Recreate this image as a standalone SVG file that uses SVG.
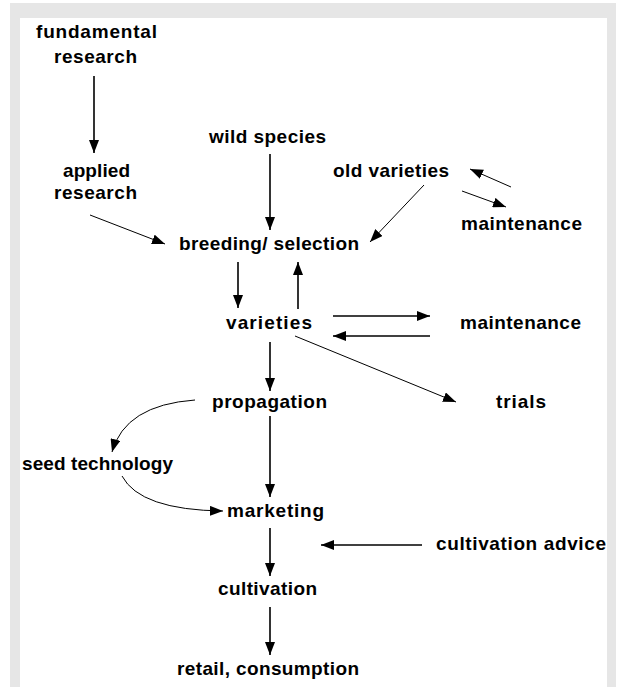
<svg xmlns="http://www.w3.org/2000/svg" width="618" height="687" viewBox="0 0 618 687">
<style>
text{font-family:"Liberation Sans",Arial,sans-serif;font-weight:bold;font-size:19px;fill:#000;text-anchor:middle}
.c line,.c path{stroke:#000;fill:none;marker-end:url(#ah)}
.s{stroke-width:1.6}
.t{stroke-width:1}
</style>
<defs>
<marker id="ah" markerUnits="userSpaceOnUse" markerWidth="14" markerHeight="10" refX="13" refY="5" orient="auto"><path d="M0,0 L13,5 L0,10 z" fill="#000"/></marker>
</defs>
<rect x="10" y="3" width="606" height="684" fill="#e6e6e6"/>
<rect x="20" y="18" width="587" height="669" fill="#fff"/>
<g id="fundamental"><text x="96.5" y="38" textLength="121">fundamental</text><text x="95.5" y="63" textLength="83">research</text></g>
<g id="applied"><text x="96.5" y="177" textLength="67">applied</text><text x="95.5" y="199" textLength="83">research</text></g>
<g id="wild"><text x="267.5" y="143" textLength="117">wild species</text></g>
<g id="old"><text x="391" y="177" textLength="116">old varieties</text></g>
<g id="maint1"><text x="521.5" y="230" textLength="121">maintenance</text></g>
<g id="breeding"><text x="269" y="250" textLength="180">breeding/ selection</text></g>
<g id="varieties"><text x="269" y="329" textLength="86">varieties</text></g>
<g id="maint2"><text x="520.5" y="329" textLength="121">maintenance</text></g>
<g id="propagation"><text x="269.5" y="408" textLength="115">propagation</text></g>
<g id="trials"><text x="521" y="408" textLength="50">trials</text></g>
<g id="seed"><text x="97.5" y="470" textLength="151">seed technology</text></g>
<g id="marketing"><text x="275.5" y="517" textLength="97">marketing</text></g>
<g id="advice"><text x="521" y="550" textLength="170">cultivation advice</text></g>
<g id="cultivation"><text x="267.5" y="595" textLength="99">cultivation</text></g>
<g id="retail"><text x="268" y="675" textLength="182">retail, consumption</text></g>
<g id="connectors" class="c">
<line class="s" x1="94" y1="76" x2="94" y2="153"/>
<line class="t" x1="90" y1="215" x2="165" y2="244"/>
<line class="s" x1="270" y1="154" x2="270" y2="230"/>
<line class="t" x1="424" y1="185" x2="370" y2="242"/>
<line class="t" x1="511" y1="187" x2="470" y2="169"/>
<line class="t" x1="462" y1="191" x2="506" y2="207"/>
<line class="s" x1="238" y1="262" x2="238" y2="308"/>
<line class="s" x1="298" y1="309" x2="298" y2="262"/>
<line class="s" x1="333" y1="316" x2="430" y2="316"/>
<line class="s" x1="430" y1="336" x2="333" y2="336"/>
<line class="t" x1="295" y1="336" x2="456" y2="402"/>
<line class="s" x1="270" y1="342" x2="270" y2="391"/>
<path class="t" d="M195,400 Q125,405 112,452"/>
<line class="s" x1="270" y1="416" x2="270" y2="497"/>
<path class="t" d="M122,476 Q140,510 223,511"/>
<line class="s" x1="270" y1="528" x2="270" y2="576"/>
<line class="s" x1="422" y1="545" x2="321" y2="545"/>
<line class="s" x1="270" y1="607" x2="270" y2="655"/>
</g>
</svg>
